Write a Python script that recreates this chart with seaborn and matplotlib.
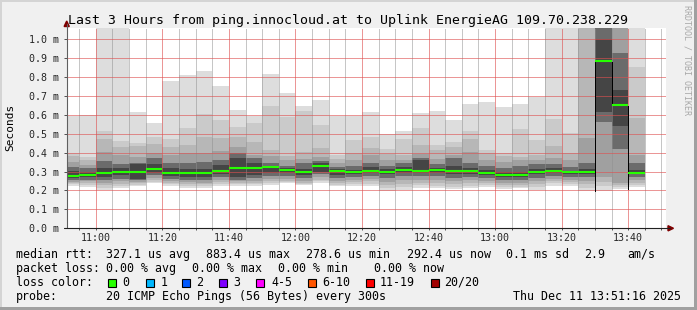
import matplotlib
matplotlib.use("Agg")
import matplotlib.pyplot as plt
import numpy as np
import pandas as pd
import seaborn as sns
from matplotlib.patches import Rectangle, Polygon
from matplotlib.lines import Line2D
from matplotlib.ticker import MultipleLocator, FuncFormatter

# ---------------- data (values in ms) ----------------
bar_end = ["10:55", "11:00", "11:05", "11:10", "11:15", "11:20", "11:25", "11:30", "11:35", "11:40",
           "11:45", "11:50", "11:55", "12:00", "12:05", "12:10", "12:15", "12:20", "12:25", "12:30",
           "12:35", "12:40", "12:45", "12:50", "12:55", "13:00", "13:05", "13:10", "13:15", "13:20",
           "13:25", "13:30", "13:35", "13:40", "13:45"]

median = [0.277, 0.282, 0.295, 0.300, 0.300, 0.312, 0.291, 0.291, 0.291, 0.305,
          0.317, 0.317, 0.323, 0.310, 0.300, 0.330, 0.305, 0.296, 0.305, 0.300,
          0.309, 0.305, 0.309, 0.303, 0.303, 0.295, 0.284, 0.284, 0.300, 0.305,
          0.298, 0.298, 0.884, 0.654, 0.295]

# smoke layer edges: hi1/lo1 outermost (max/min ping) ... hi6/lo6 innermost
hi1 = [0.596, 0.600, 1.100, 1.100, 0.616, 0.557, 0.781, 0.811, 0.832, 0.750,
       0.626, 0.594, 0.817, 0.718, 0.647, 0.679, 0.594, 0.594, 0.616, 0.497,
       0.515, 0.608, 0.621, 0.573, 0.658, 0.670, 0.644, 0.658, 0.697, 1.100,
       1.100, 1.100, 1.100, 1.100, 1.100]
hi2 = [0.400, 0.379, 0.515, 0.462, 0.453, 0.485, 0.473, 0.530, 0.603, 0.573,
       0.538, 0.556, 0.647, 0.591, 0.621, 0.547, 0.388, 0.467, 0.485, 0.420,
       0.473, 0.529, 0.441, 0.459, 0.515, 0.414, 0.400, 0.526, 0.467, 0.578,
       0.503, 1.100, 1.100, 1.100, 0.852]
hi3 = [0.383, 0.362, 0.473, 0.432, 0.436, 0.444, 0.432, 0.441, 0.485, 0.476,
       0.485, 0.459, 0.414, 0.383, 0.406, 0.425, 0.365, 0.400, 0.423, 0.393,
       0.388, 0.441, 0.414, 0.432, 0.471, 0.397, 0.385, 0.379, 0.388, 0.437,
       0.400, 1.100, 1.100, 1.100, 0.584]
hi4 = [0.353, 0.335, 0.406, 0.388, 0.379, 0.397, 0.388, 0.397, 0.400, 0.410,
       0.432, 0.388, 0.380, 0.360, 0.365, 0.379, 0.345, 0.360, 0.388, 0.362,
       0.360, 0.393, 0.365, 0.390, 0.406, 0.362, 0.350, 0.362, 0.362, 0.370,
       0.362, 0.475, 1.100, 1.100, 0.390]
hi5 = [0.326, 0.317, 0.356, 0.339, 0.344, 0.370, 0.345, 0.344, 0.350, 0.362,
       0.397, 0.370, 0.345, 0.330, 0.344, 0.355, 0.325, 0.330, 0.347, 0.330,
       0.344, 0.370, 0.340, 0.370, 0.344, 0.330, 0.320, 0.330, 0.340, 0.340,
       0.325, 0.344, 1.100, 0.926, 0.344]
hi6 = [0.305, 0.300, 0.320, 0.317, 0.339, 0.339, 0.317, 0.315, 0.315, 0.335,
       0.370, 0.345, 0.330, 0.318, 0.315, 0.347, 0.315, 0.310, 0.322, 0.312,
       0.322, 0.360, 0.320, 0.330, 0.320, 0.310, 0.298, 0.300, 0.315, 0.318,
       0.305, 0.315, 1.000, 0.732, 0.310]
lo6 = [0.265, 0.270, 0.270, 0.280, 0.262, 0.295, 0.275, 0.272, 0.270, 0.285,
       0.270, 0.280, 0.290, 0.290, 0.280, 0.300, 0.282, 0.285, 0.292, 0.285,
       0.295, 0.290, 0.290, 0.285, 0.288, 0.280, 0.270, 0.270, 0.285, 0.290,
       0.285, 0.285, 0.617, 0.541, 0.285]
lo5 = [0.255, 0.258, 0.255, 0.262, 0.255, 0.280, 0.262, 0.258, 0.255, 0.270,
       0.258, 0.265, 0.275, 0.275, 0.265, 0.285, 0.268, 0.270, 0.278, 0.265,
       0.275, 0.275, 0.275, 0.268, 0.272, 0.265, 0.255, 0.255, 0.268, 0.275,
       0.270, 0.270, 0.560, 0.420, 0.270]
lo4 = [0.245, 0.248, 0.240, 0.248, 0.245, 0.268, 0.250, 0.245, 0.242, 0.256,
       0.250, 0.252, 0.260, 0.262, 0.252, 0.270, 0.252, 0.258, 0.262, 0.245,
       0.255, 0.258, 0.258, 0.250, 0.255, 0.250, 0.240, 0.242, 0.250, 0.260,
       0.255, 0.250, 0.273, 0.238, 0.255]
lo3 = [0.238, 0.238, 0.228, 0.235, 0.237, 0.256, 0.240, 0.235, 0.232, 0.245,
       0.242, 0.242, 0.248, 0.252, 0.242, 0.258, 0.240, 0.245, 0.248, 0.228,
       0.235, 0.242, 0.242, 0.235, 0.240, 0.238, 0.228, 0.230, 0.235, 0.248,
       0.243, 0.232, 0.245, 0.228, 0.240]
lo2 = [0.232, 0.230, 0.215, 0.224, 0.230, 0.246, 0.232, 0.225, 0.222, 0.235,
       0.234, 0.232, 0.238, 0.245, 0.235, 0.250, 0.230, 0.235, 0.235, 0.212,
       0.218, 0.228, 0.225, 0.220, 0.225, 0.228, 0.216, 0.220, 0.218, 0.238,
       0.235, 0.215, 0.225, 0.220, 0.230]
lo1 = [0.224, 0.218, 0.203, 0.212, 0.224, 0.238, 0.224, 0.215, 0.212, 0.224,
       0.224, 0.222, 0.230, 0.238, 0.228, 0.242, 0.222, 0.226, 0.224, 0.198,
       0.203, 0.215, 0.212, 0.206, 0.212, 0.217, 0.206, 0.212, 0.203, 0.226,
       0.226, 0.199, 0.197, 0.210, 0.220]
loss = ["0"] * 35

loss_labels = ["0", "1", "2", "3", "4-5", "6-10", "11-19", "20/20"]
loss_colors = ["#26ff00", "#00b8ff", "#0059ff", "#7e00ff", "#ff00ff", "#ff5500", "#ff0000", "#a10000"]

title = "Last 3 Hours from ping.innocloud.at to Uplink EnergieAG 109.70.238.229"
stats_rtt = ["median rtt:", "327.1 us avg", "883.4 us max", "278.6 us min", "292.4 us now",
             "0.1 ms sd", "2.9", "am/s"]
stats_loss = ["packet loss:", "0.00 % avg", "0.00 % max", "0.00 % min", "0.00 % now"]
probe_text = ["probe:", "20 ICMP Echo Pings (56 Bytes) every 300s"]
stamp = "Thu Dec 11 13:51:16 2025"

# ---------------- style ----------------
W, H, DPI = 697, 310, 100
sns.set_theme(style="white")
plt.rcParams["font.family"] = ["DejaVu Sans Mono", "DejaVu Sans"]
plt.rcParams["text.color"] = "black"

def P(x, y):
    return (x / W, 1 - y / H)

fig = plt.figure(figsize=(W / DPI, H / DPI), dpi=DPI, facecolor="#f0f0f0")
L, R, T, B = 66.7, 665.7, 27.7, 228.3
ax = fig.add_axes([L / W, 1 - B / H, (R - L) / W, (B - T) / H])
ax.set_facecolor("white")

t_end = np.array([int(s[:2]) * 60 + int(s[3:]) for s in bar_end], dtype=float)
t_mid = t_end - 2.5

layers = [(lo1, hi1, "#dddddd"), (lo2, hi2, "#cacaca"), (lo3, hi3, "#b7b7b7"),
          (lo4, hi4, "#a0a0a0"), (lo5, hi5, "#6b6b6b"), (lo6, hi6, "#454545")]
for lo, hi, c in layers:
    lo = np.array(lo); hi = np.array(hi)
    ax.bar(t_mid, hi - lo, bottom=lo, width=5.0, color=c, linewidth=0,
           antialiased=False, zorder=1)

ymax = 1.061
med = np.array(median)
for i in range(1, len(med)):
    a, b = med[i - 1], med[i]
    if abs(a - b) > 0.2:
        top = max(a, b)
        bot = min(a, b) if min(a, b) > 0.5 else min(lo1[i - 1], lo1[i])
        ax.vlines(t_end[i - 1], bot, top, colors="black",
                  linestyles=(0, (1, 1)), linewidth=0.72, zorder=2.7, antialiased=False)

# median line segments via seaborn (one unit per bar)
rows = []
for i in range(len(med)):
    for tx in (t_end[i] - 5.0, t_end[i]):
        rows.append({"t": tx, "median": med[i], "bar": i, "loss": loss[i]})
df = pd.DataFrame(rows)
sns.lineplot(data=df, x="t", y="median", units="bar", estimator=None, hue="loss",
             palette=dict(zip(loss_labels, loss_colors)), linewidth=1.5, legend=False,
             ax=ax, zorder=3, solid_capstyle="butt")

ax.set_xlim(651.267, 831.267)
ax.set_ylim(0, ymax)
ax.set_xlabel("")
ax.set_ylabel("")

ax.xaxis.set_major_locator(MultipleLocator(20))
ax.xaxis.set_minor_locator(MultipleLocator(5))
ax.yaxis.set_major_locator(MultipleLocator(0.1))
ax.xaxis.set_major_formatter(FuncFormatter(lambda v, p: f"{int(round(v))//60:02d}:{int(round(v))%60:02d}"))
ax.yaxis.set_major_formatter(FuncFormatter(lambda v, p: f"{v:.1f} m"))

dot = (0, (1, 1))
ax.grid(which="major", axis="x", color="#de5050", alpha=0.6, linestyle=dot, linewidth=0.72, antialiased=False)
ax.grid(which="minor", axis="x", color="#8f8f8f", alpha=0.5, linestyle=dot, linewidth=0.72, antialiased=False)
ax.grid(which="major", axis="y", color="#de5050", alpha=0.6, linestyle=dot, linewidth=0.72, antialiased=False)
ax.set_axisbelow(False)

for s in ax.spines.values():
    s.set_visible(False)

ax.tick_params(axis="y", which="major", direction="out", length=2.2, width=0.72,
               color="#555555", pad=3.2, labelsize=7.2, left=True)
ax.tick_params(axis="x", which="both", direction="out", length=1.5, width=0.72,
               color="#555555", pad=2.0, labelsize=7.2, bottom=True)

# axes lines and arrows
fig.add_artist(Line2D([P(L, 0)[0]] * 2, [P(0, B)[1], P(0, 24)[1]], transform=fig.transFigure,
                      color="#606060", linewidth=0.8))
fig.add_artist(Line2D([P(64, 0)[0], P(670, 0)[0]], [P(0, B)[1]] * 2, transform=fig.transFigure,
                      color="#202020", linewidth=0.8))
fig.add_artist(Polygon([P(L - 2.6, 26.5), P(L + 2.6, 26.5), P(L, 21)], closed=True,
                       transform=fig.transFigure, color="#7f0000"))
fig.add_artist(Polygon([P(668, B - 2.6), P(668, B + 2.6), P(673.5, B)], closed=True,
                       transform=fig.transFigure, color="#7f0000"))

# frame
fig.add_artist(Rectangle((0, 1 - 2 / H), 1, 2 / H, transform=fig.transFigure, color="#d4d4d4", lw=0))
fig.add_artist(Rectangle((0, 0), 2 / W, 1, transform=fig.transFigure, color="#d4d4d4", lw=0))
fig.add_artist(Rectangle((0, 0), 1, 3 / H, transform=fig.transFigure, color="#a0a0a0", lw=0))
fig.add_artist(Rectangle((1 - 3 / W, 0), 3 / W, 1, transform=fig.transFigure, color="#a0a0a0", lw=0))

# texts
fig.text(*P(347.8, 24), title, ha="center", va="baseline", fontsize=9.57)
fig.text(*P(10.5, 127.5), "Seconds", rotation=90, ha="center", va="center", fontsize=8)
fig.text(*P(686.5, 5), "RRDTOOL / TOBI OETIKER", rotation=270, ha="center", va="top",
         fontsize=6, color="#a8a8a8")

fs = 8.37
xs1 = [16, 107, 207, 307, 407.7, 506.7, 585, 627.3]
for x, s in zip(xs1, stats_rtt):
    fig.text(*P(x - 0.5, 257.7), s, ha="left", va="baseline", fontsize=fs)
xs2 = [16, 107, 193, 279, 374]
for x, s in zip(xs2, stats_loss):
    fig.text(*P(x - 0.5, 271.7), s, ha="left", va="baseline", fontsize=fs)
fig.text(*P(15.5, 285.7), "loss color:", ha="left", va="baseline", fontsize=fs)
box_x = [108, 146, 182, 219, 256, 308, 365.7, 430.7]
lab_x = [123, 161, 197, 234, 272, 323, 380, 445]
for bx, lx, lab, c in zip(box_x, lab_x, loss_labels, loss_colors):
    fig.add_artist(Rectangle(P(bx, 287), 8 / W, 8 / H, transform=fig.transFigure,
                             facecolor=c, edgecolor="black", linewidth=0.8))
    fig.text(*P(lx - 0.5, 285.7), lab, ha="left", va="baseline", fontsize=fs)
fig.text(*P(15.5, 300), probe_text[0], ha="left", va="baseline", fontsize=fs)
fig.text(*P(106.5, 300), probe_text[1], ha="left", va="baseline", fontsize=fs)
fig.text(*P(681, 300), stamp, ha="right", va="baseline", fontsize=fs)

fig.savefig("out.png", dpi=DPI, facecolor=fig.get_facecolor())
